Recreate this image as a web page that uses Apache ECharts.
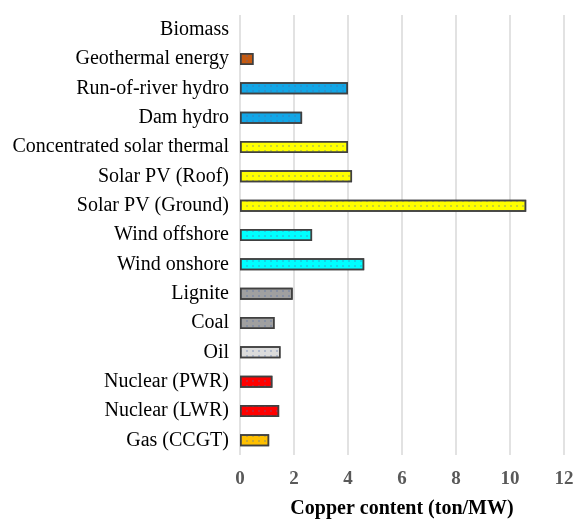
<!DOCTYPE html>
<html><head><meta charset="utf-8">
<script src="https://cdn.jsdelivr.net/npm/echarts@6/dist/echarts.min.js"></script>
<style>html,body{margin:0;padding:0;background:#fff}#c{width:574px;height:521px}</style>
</head><body><div id="c"></div>
<script>
const categories = ["Biomass","Geothermal energy","Run-of-river hydro","Dam hydro","Concentrated solar thermal","Solar PV (Roof)","Solar PV (Ground)","Wind offshore","Wind onshore","Lignite","Coal","Oil","Nuclear (PWR)","Nuclear (LWR)","Gas (CCGT)"];
const copperContent = [null,0.5,4.0,2.3,4.0,4.15,10.6,2.67,4.6,1.95,1.28,1.5,1.2,1.45,1.08];
const barColors = ["#a5a5a5","#c55a11","#12a6e6","#12a6e6","#ffff00","#ffff00","#ffff00","#00ffff","#00ffff","#a0a0a0","#a0a0a0","#dcdcdc","#ff0000","#ff0000","#ffc000"];
const xTicks = [0,2,4,6,8,10,12];

const chart = echarts.init(document.getElementById('c'));
chart.setOption({
  animation:false,
  grid:{left:240,right:10,top:15,bottom:66,containLabel:false,outerBoundsMode:'none'},
  xAxis:{type:'value',min:xTicks[0],max:xTicks[xTicks.length-1],interval:2,
    name:'Copper content (ton/MW)',nameLocation:'middle',nameGap:44,
    nameTextStyle:{fontFamily:'Liberation Serif',fontWeight:'bold',fontSize:20,color:'#000'},
    axisLine:{show:false},axisTick:{show:false},
    axisLabel:{fontFamily:'Liberation Serif',fontWeight:'bold',fontSize:19,color:'#595959',margin:15},
    splitLine:{show:true,lineStyle:{color:'#d9d9d9',width:1.5}}},
  yAxis:{type:'category',data:categories,inverse:true,
    axisLine:{show:false},axisTick:{show:false},
    axisLabel:{fontFamily:'Liberation Serif',fontSize:20,color:'#000',margin:11}},
  series:[{type:'bar',barWidth:12,
    data:copperContent.map((v,i)=>({value:v,itemStyle:{color:barColors[i]}})),
    itemStyle:{borderColor:'#404040',borderWidth:1.5,
      decal:{symbol:'rect',symbolSize:0.8,dashArrayX:[2,4],dashArrayY:[2,3],color:'rgba(80,110,170,0.5)'}}
  }]
});
</script></body></html>
